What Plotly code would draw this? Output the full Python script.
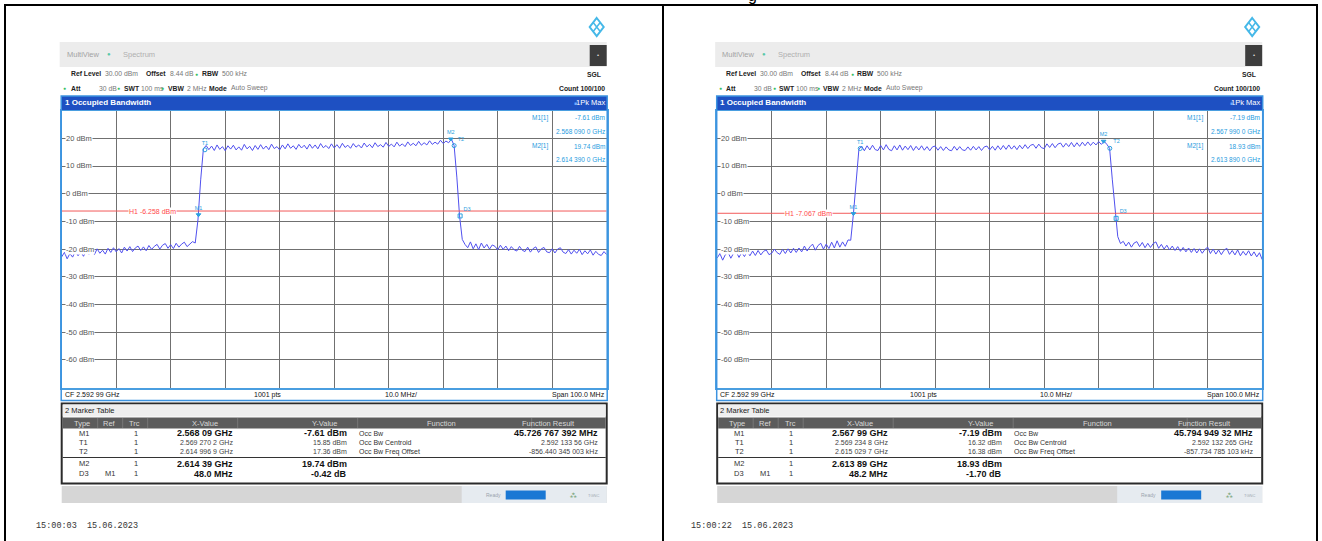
import numpy as np
import plotly.graph_objects as go

# ---------------- data ----------------
CF_GHZ = 2.59299
SPAN_GHZ = 0.1
START_GHZ = CF_GHZ - SPAN_GHZ / 2
STOP_GHZ = CF_GHZ + SPAN_GHZ / 2

trace_left = [
    -22.8, -21.2, -23.5, -21.6, -22.9, -20.8, -22.4, -21.0, -22.6, -20.5,
    -21.9, -20.3, -22.0, -19.9, -21.5, -20.4, -21.8, -19.7, -21.2, -19.5,
    -21.0, -19.8, -21.4, -19.3, -20.7, -19.1, -20.9, -19.6, -18.9, -20.5,
    -19.2, -20.6, -18.7, -20.1, -19.0, -18.3, -20.0, -18.6, -18.0, -19.7,
    -18.4, -19.8, -17.9, -19.3, -18.2, -17.5, -19.1, -18.0, -17.3,
    -17.8, -9.5, 5.0, 16.2,
    17.4, 15.9, 17.2, 15.6, 17.6, 16.0, 17.0, 15.5, 17.3, 16.1,
    17.5, 15.8, 16.9, 15.7, 17.8, 16.2, 17.1, 15.6, 17.4, 16.0,
    17.7, 16.1, 17.2, 15.9, 17.9, 16.3, 17.0, 15.8, 17.6, 16.2,
    18.0, 16.4, 17.3, 16.0, 17.8, 16.5, 17.5, 16.1, 17.9, 16.4,
    17.6, 16.2, 18.1, 16.6, 17.4, 16.3, 18.0, 16.5, 17.7, 16.4,
    18.2, 16.7, 17.5, 16.4, 18.1, 16.8, 17.6, 16.5, 18.3, 16.9,
    17.8, 16.6, 18.4, 17.0, 17.7, 16.8, 18.5, 17.1, 17.9, 16.9,
    18.6, 17.2, 18.0, 17.0, 18.7, 17.4, 18.2, 17.3, 18.9, 17.5,
    18.4, 17.6, 19.1, 17.8, 18.6, 17.9, 19.3, 18.1, 19.0, 18.4,
    19.7, 17.4, 6.0, -8.0, -16.5, -18.3,
    -19.5, -17.4, -19.9, -18.1, -20.2, -17.8, -19.6, -18.3, -20.0, -18.5,
    -19.0, -20.3, -18.6, -20.1, -18.9, -20.6, -19.1, -20.2, -20.7, -19.0,
    -20.4, -20.9, -19.3, -21.1, -19.8, -19.2, -21.2, -19.9, -19.4, -21.0,
    -21.3, -19.9, -21.4, -20.0, -19.5, -21.1, -21.6, -20.2, -21.8, -20.4,
    -21.5, -20.1, -22.0, -20.6, -21.7, -20.3, -22.2, -20.8, -21.9, -22.3, -20.9,
    -22.0,
]

trace_right = [
    -23.2, -21.6, -24.0, -22.0, -21.2, -23.3, -21.5, -21.0, -23.0, -21.2,
    -22.7, -20.9, -22.4, -20.7, -22.3, -20.5, -22.1, -20.8, -20.3, -22.0,
    -21.5, -20.0, -21.3, -21.9, -20.1, -21.6, -19.9, -21.4, -19.7, -21.2,
    -19.6, -21.0, -18.9, -20.7, -19.2, -18.2, -20.4, -18.7, -17.9, -20.0,
    -18.2, -19.8, -17.5, -19.6, -17.0, -19.3, -17.4, -19.0, -16.7,
    -16.8, -7.2, 6.0, 16.0,
    17.2, 15.5, 17.3, 15.8, 17.5, 15.9, 15.6, 17.4, 15.8, 17.7,
    16.0, 15.5, 17.3, 15.8, 17.6, 15.7, 17.2, 15.9, 17.4, 15.6,
    17.1, 15.8, 17.3, 15.7, 17.0, 15.5, 16.9, 17.2, 15.7, 17.0,
    15.6, 16.9, 15.8, 15.5, 17.1, 15.7, 17.0, 15.8, 15.6, 16.9,
    15.7, 17.1, 15.8, 17.0, 15.6, 16.9, 17.2, 15.8, 17.1, 15.7,
    17.3, 15.9, 17.4, 16.0, 17.6, 16.1, 17.3, 15.9, 17.5, 16.2,
    17.7, 16.3, 17.5, 17.8, 16.4, 17.9, 16.6, 16.3, 18.0, 16.7,
    18.1, 16.6, 17.9, 18.3, 16.8, 18.2, 17.0, 18.5, 16.9, 18.4,
    17.1, 18.6, 17.3, 18.7, 17.4, 18.6, 17.6, 18.8, 17.8,
    18.9, 17.8, 16.4, 5.0, -6.0, -15.5, -18.0,
    -17.2, -18.9, -17.5, -19.3, -17.8, -17.3, -19.1, -17.6, -19.5, -17.9,
    -19.4, -18.0, -17.4, -19.7, -18.3, -20.0, -18.6, -20.3, -18.9, -20.5,
    -19.1, -20.8, -19.4, -21.0, -19.6, -21.2, -19.8, -21.4, -19.9, -21.5,
    -20.1, -19.3, -21.6, -20.0, -21.8, -20.3, -22.0, -20.4, -19.7, -21.9,
    -20.5, -22.1, -20.3, -22.4, -20.8, -22.2, -20.6, -22.5, -21.0, -22.8, -21.3,
    -23.8,
]

marker_names = ["M1", "T1", "T2", "M2", "D3"]
marker_x_left = [2.56809, 2.5692702, 2.6149969, 2.61439, 2.61609]
marker_y_left = [-7.61, 15.85, 17.36, 19.74, -8.03]
marker_x_right = [2.56799, 2.5692348, 2.6150297, 2.61389, 2.61619]
marker_y_right = [-7.19, 16.32, 16.38, 18.93, -8.89]

h1_left = -6.258
h1_right = -7.067

ytick_vals = [20, 10, 0, -10, -20, -30, -40, -50, -60]
ytick_text = ["20 dBm", "10 dBm", "0 dBm", "-10 dBm", "-20 dBm", "-30 dBm", "-40 dBm", "-50 dBm", "-60 dBm"]

table_left = [
    ["M1", "", "1", "2.568 09 GHz", "-7.61 dBm", "Occ Bw", "45.726 767 392 MHz"],
    ["T1", "", "1", "2.569 270 2 GHz", "15.85 dBm", "Occ Bw Centroid", "2.592 133 56 GHz"],
    ["T2", "", "1", "2.614 996 9 GHz", "17.36 dBm", "Occ Bw Freq Offset", "-856.440 345 003 kHz"],
    ["M2", "", "1", "2.614 39 GHz", "19.74 dBm", "", ""],
    ["D3", "M1", "1", "48.0 MHz", "-0.42 dB", "", ""],
]
table_right = [
    ["M1", "", "1", "2.567 99 GHz", "-7.19 dBm", "Occ Bw", "45.794 949 32 MHz"],
    ["T1", "", "1", "2.569 234 8 GHz", "16.32 dBm", "Occ Bw Centroid", "2.592 132 265 GHz"],
    ["T2", "", "1", "2.615 029 7 GHz", "16.38 dBm", "Occ Bw Freq Offset", "-857.734 785 103 kHz"],
    ["M2", "", "1", "2.613 89 GHz", "18.93 dBm", "", ""],
    ["D3", "M1", "1", "48.2 MHz", "-1.70 dB", "", ""],
]
info_left = ["M1[1]", "-7.61 dBm", "2.568 090 0 GHz", "M2[1]", "19.74 dBm", "2.614 390 0 GHz"]
info_right = ["M1[1]", "-7.19 dBm", "2.567 990 0 GHz", "M2[1]", "18.93 dBm", "2.613 890 0 GHz"]
timestamps = ["15:00:03  15.06.2023", "15:00:22  15.06.2023"]

# ---------------- layout helpers ----------------
W, H = 1322, 541
FONT = "Liberation Sans, Arial, sans-serif"
NARROW = "Liberation Sans Narrow, Liberation Sans, sans-serif"
BLUE_TXT = "#1f9be0"
TRACE_COL = "#5050ee"

def px(x):
    return x / W

def py(y):
    return 1 - y / H

annotations = []
shapes = []

def text(x, y, s, size=7, color="#222", anchor="left", family=FONT, bg=None, yref="paper"):
    d = dict(x=px(x), y=(py(y) if yref == "paper" else y), xref="paper", yref=yref,
             text=s, showarrow=False, xanchor=anchor, yanchor="middle",
             font=dict(size=size, color=color, family=family), borderpad=0)
    if bg:
        d["bgcolor"] = bg
    annotations.append(d)

def rect(x0, y0, x1, y1, fill=None, line=None, lw=0, layer="above"):
    shapes.append(dict(type="rect", xref="paper", yref="paper",
                       x0=px(x0), x1=px(x1), y0=py(y1), y1=py(y0),
                       fillcolor=fill if fill else "rgba(0,0,0,0)",
                       line=dict(color=line if line else "rgba(0,0,0,0)", width=lw),
                       layer=layer))

def hline(x0, x1, y, color, lw=1):
    shapes.append(dict(type="line", xref="paper", yref="paper", x0=px(x0), x1=px(x1),
                       y0=py(y), y1=py(y), line=dict(color=color, width=lw)))

def vline(x, y0, y1, color, lw=1):
    shapes.append(dict(type="line", xref="paper", yref="paper", x0=px(x), x1=px(x),
                       y0=py(y0), y1=py(y1), line=dict(color=color, width=lw)))

fig = go.Figure()

PLOT_TOP, PLOT_BOT, PLOT_W = 110.6, 387.6, 545.0

def panel(X0, ax, trace, mx, my, h1, table, info, stamp):
    xa = "x" if ax == 1 else "x%d" % ax
    ya = "y" if ax == 1 else "y%d" % ax
    R = X0 + PLOT_W
    # logo
    cx, cy = R - 10, 27
    shapes.append(dict(type="path", xref="paper", yref="paper",
                       path="M %f %f L %f %f L %f %f L %f %f Z" % (
                           px(cx), py(cy - 9), px(cx + 7), py(cy), px(cx), py(cy + 9), px(cx - 7), py(cy)),
                       line=dict(color="#45b8e8", width=2), fillcolor="rgba(0,0,0,0)"))
    shapes.append(dict(type="path", xref="paper", yref="paper",
                       path="M %f %f L %f %f M %f %f L %f %f" % (
                           px(cx - 3.5), py(cy - 4.5), px(cx + 3.5), py(cy + 4.5),
                           px(cx + 3.5), py(cy - 4.5), px(cx - 3.5), py(cy + 4.5)),
                       line=dict(color="#45b8e8", width=1.5)))
    # tab bar
    rect(X0 - 2, 42, R, 67, fill="#ececec", layer="below")
    text(X0 + 4, 55, "MultiView", 7.5, "#a3a3a3", family=NARROW)
    text(X0 + 47, 54, "●", 6, "#58c8a8", anchor="center")
    text(X0 + 60, 55, "Spectrum", 7.5, "#b0b0b0", family=NARROW)
    rect(R - 17, 45, R, 66, fill="#3d3d3d")
    text(R - 8.5, 55.5, "•", 6, "#dddddd", anchor="center")
    # settings lines
    G = "#3bbf63"
    S = 6.8
    text(X0 + 8, 74, "<b>Ref Level</b>", S, "#222", family=NARROW)
    text(X0 + 42, 74, "30.00 dBm", S, "#777", family=NARROW)
    text(X0 + 83, 74, "<b>Offset</b>", S, "#222", family=NARROW)
    text(X0 + 107, 74, "8.44 dB", S, "#777", family=NARROW)
    text(X0 + 135, 74, "●", 5, G, anchor="center")
    text(X0 + 139, 74, "<b>RBW</b>", S, "#222", family=NARROW)
    text(X0 + 159, 74, "500 kHz", S, "#777", family=NARROW)
    text(X0 + 3, 88, "●", 5, G, anchor="center")
    text(X0 + 8, 88, "<b>Att</b>", S, "#222", family=NARROW)
    text(X0 + 36, 88, "30 dB", S, "#777", family=NARROW)
    text(X0 + 57, 88, "●", 5, G, anchor="center")
    text(X0 + 61, 88, "<b>SWT</b>", S, "#222", family=NARROW)
    text(X0 + 78, 88, "100 ms", S, "#777", family=NARROW)
    text(X0 + 101, 88, "●", 5, G, anchor="center")
    text(X0 + 105, 88, "<b>VBW</b>", S, "#222", family=NARROW)
    text(X0 + 124, 88, "2 MHz", S, "#777", family=NARROW)
    text(X0 + 146, 88, "<b>Mode</b>", S, "#222", family=NARROW)
    text(X0 + 168, 88, "Auto Sweep", S, "#777", family=NARROW)
    text(R - 21, 75, "<b>SGL</b>", S, "#222", family=NARROW)
    text(R - 1, 88, "<b>Count 100/100</b>", S, "#222", anchor="right", family=NARROW)
    # header bar
    rect(X0 - 0.5, 96, R + 0.5, 110, fill="#1e50c2")
    text(X0 + 2, 103, "<b>1 Occupied Bandwidth</b>", 8, "#ffffff", family=NARROW)
    text(R - 1, 103, "1Pk Max", 7.5, "#ffffff", anchor="right")
    text(R - 31, 103, "■", 5, "#6fa8ff", anchor="center")
    # window frame and CF row
    rect(X0 - 0.5, 96, R + 0.5, 400.5, line="#3c93e0", lw=1.5)
    text(X0 + 2, 394.5, "CF 2.592 99 GHz", 7, "#111")
    text(X0 + 206, 394.5, "1001 pts", 7, "#111", anchor="center")
    text(X0 + 339, 394.5, "10.0 MHz/", 7, "#111", anchor="center")
    text(R - 1, 394.5, "Span 100.0 MHz", 7, "#111", anchor="right")

    # trace
    freq = np.linspace(START_GHZ, STOP_GHZ, len(trace))
    fig.add_trace(go.Scatter(x=freq, y=trace, mode="lines", xaxis=xa, yaxis=ya,
                             line=dict(color=TRACE_COL, width=1), showlegend=False, hoverinfo="skip"))
    # H1 line
    fig.add_trace(go.Scatter(x=[START_GHZ, STOP_GHZ], y=[h1, h1], mode="lines", xaxis=xa, yaxis=ya,
                             line=dict(color="#f25a5a", width=1), showlegend=False, hoverinfo="skip"))
    annotations.append(dict(x=START_GHZ + 0.0167, y=h1, xref=xa, yref=ya, text="H1 %.3f dBm" % h1,
                            showarrow=False, xanchor="center", yanchor="middle", bgcolor="#ffffff",
                            font=dict(size=7, color="#ff4a4a", family=FONT), borderpad=0))
    # markers
    symbols = ["triangle-down", "circle-open", "circle-open", "triangle-down", "square-open"]
    positions = ["top center", "top center", "top right", "top center", "top right"]
    fig.add_trace(go.Scatter(x=mx, y=my, mode="markers+text", xaxis=xa, yaxis=ya,
                             marker=dict(symbol=symbols, size=4, color="#2aa0e0",
                                         line=dict(color="#2aa0e0", width=1)),
                             text=marker_names, textposition=positions,
                             textfont=dict(size=5.5, color="#2aa0e0", family=FONT),
                             showlegend=False, hoverinfo="skip"))
    # y labels
    for v, t in zip(ytick_vals, ytick_text):
        text(X0 + 3, v, t, 7.5, "#555", yref=ya, bg="#ffffff")
    # info box
    text(R - 58, 118, info[0], 6.5, BLUE_TXT, anchor="right")
    text(R - 1, 118, info[1], 6.5, BLUE_TXT, anchor="right")
    text(R - 1, 131.5, info[2], 6.5, BLUE_TXT, anchor="right")
    text(R - 58, 146, info[3], 6.5, BLUE_TXT, anchor="right")
    text(R - 1, 146, info[4], 6.5, BLUE_TXT, anchor="right")
    text(R - 1, 159.5, info[5], 6.5, BLUE_TXT, anchor="right")

    # marker table
    rect(X0, 403.5, R, 483.5, fill="#ffffff", line="#2b2b2b", lw=2, layer="below")
    rect(X0 + 1, 404.5, R - 1, 416.5, fill="#efefef", layer="below")
    text(X0 + 2, 410.5, "2 Marker Table", 7.5, "#222")
    rect(X0 + 1, 417.5, R - 1, 428.5, fill="#5c5c5c", layer="below")
    for sx in [36, 61, 86, 176, 296, 470]:
        vline(X0 + sx, 418, 428, "#787878", 1)
    hdr = [("Type", 20), ("Ref", 48), ("Trc", 73), ("X-Value", 143), ("Y-Value", 263),
           ("Function", 380), ("Function Result", 487)]
    for t, cx0 in hdr:
        text(X0 + cx0, 423.5, t, 7.5, "#d8d8d8", anchor="center")
    rows_y = [433, 442.5, 451.5, 463.5, 473.5]
    hline(X0 + 1, R - 1, 457.5, "#333333", 1.2)
    for (r, yy) in zip(table, rows_y):
        big = r[0] in ("M1", "M2", "D3")
        s_big = 9 if big else 7
        col = "#111" if big else "#444"
        text(X0 + 22, yy, r[0], 7.5, "#333", anchor="center")
        if r[1]:
            text(X0 + 48, yy, r[1], 7.5, "#333", anchor="center")
        text(X0 + 74, yy, r[2], 7.5, "#333", anchor="center")
        xv = "<b>%s</b>" % r[3] if big else r[3]
        yv = "<b>%s</b>" % r[4] if big else r[4]
        text(X0 + 172, yy, xv, s_big, col, anchor="right")
        text(X0 + 286, yy, yv, s_big, col, anchor="right")
        if r[5]:
            text(X0 + 296, yy, r[5], 7, "#333")
        if r[6]:
            rv = "<b>%s</b>" % r[6] if r[0] == "M1" else r[6]
            text(R - 8, yy, rv, s_big, col, anchor="right")
    # status bar
    rect(X0, 486, R, 503, fill="#d6d6d6", layer="below")
    rect(X0 + 400, 486, R, 503, fill="#e6ebf0", layer="below")
    text(X0 + 440, 495, "Ready", 5, "#9aa4ae", anchor="right")
    rect(X0 + 444, 490.5, X0 + 484, 499.5, fill="#1a78d4")
    text(X0 + 512, 495, "⁂", 6, "#6a9a6a", anchor="center")
    text(X0 + 532, 495, "TGNC", 4, "#a0a8b0", anchor="center")
    # timestamp
    text(X0 - 27, 526, stamp, 8.5, "#333", family="Liberation Mono, DejaVu Sans Mono, monospace")

    return xa, ya

XL, XR = 61.7, 717.2
panel(XL, 1, trace_left, marker_x_left, marker_y_left, h1_left, table_left, info_left, timestamps[0])
panel(XR, 2, trace_right, marker_x_right, marker_y_right, h1_right, table_right, info_right, timestamps[1])

# outer frame
rect(5, 5, 1317, 560, line="#000000", lw=2)
vline(663, 5, 560, "#000000", 2)
annotations.append(dict(x=px(752), y=py(-4), xref="paper", yref="paper", text="g", showarrow=False,
                        xanchor="center", yanchor="middle", font=dict(size=16, color="#000", family="Liberation Sans")))

ydom = [py(PLOT_BOT), py(PLOT_TOP)]
axis_common = dict(showticklabels=False, ticks="", showgrid=True, gridcolor="#707070", gridwidth=1,
                   zeroline=False, showline=True, mirror=True, linecolor="#4a9ee0", linewidth=1.5)
fig.update_layout(
    width=W, height=H, margin=dict(l=0, r=0, t=0, b=0),
    paper_bgcolor="#ffffff", plot_bgcolor="#ffffff",
    xaxis=dict(domain=[px(XL), px(XL + PLOT_W)], range=[START_GHZ, STOP_GHZ],
               tick0=START_GHZ, dtick=0.01, anchor="y", **axis_common),
    yaxis=dict(domain=ydom, range=[-70, 30], dtick=10, tick0=0, anchor="x", **axis_common),
    xaxis2=dict(domain=[px(XR), px(XR + PLOT_W)], range=[START_GHZ, STOP_GHZ],
                tick0=START_GHZ, dtick=0.01, anchor="y2", **axis_common),
    yaxis2=dict(domain=ydom, range=[-70, 30], dtick=10, tick0=0, anchor="x2", **axis_common),
    annotations=annotations, shapes=shapes, showlegend=False,
)

fig.write_html("out.html", config={"displayModeBar": False},
               post_script="document.body.style.margin='0';document.body.style.overflow='hidden';")
